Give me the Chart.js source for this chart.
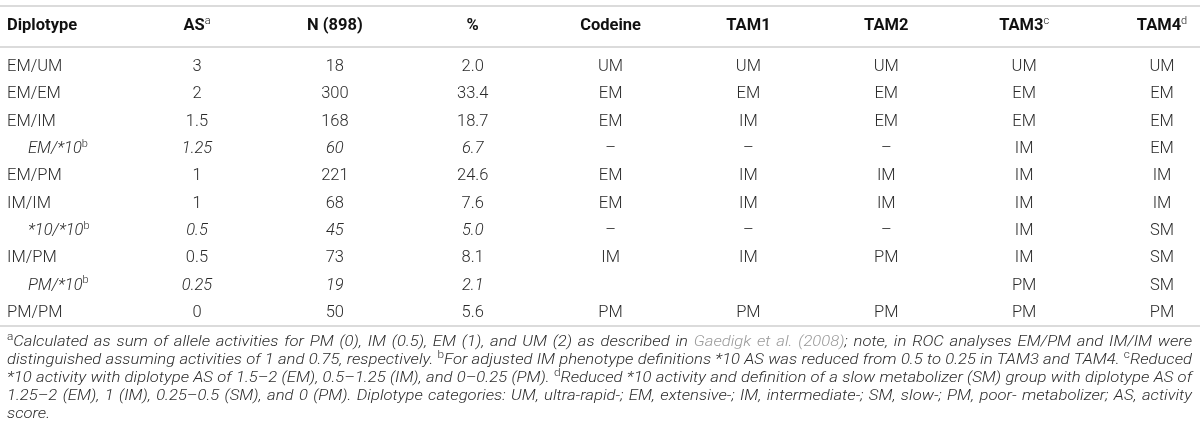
<!DOCTYPE html>
<html>
<head>
<meta charset="utf-8">
<script src="https://cdn.jsdelivr.net/npm/chart.js@4.4.1/dist/chart.umd.min.js"></script>
<style>
  html, body { margin: 0; padding: 0; background: #ffffff; }
  canvas { display: block; }
</style>
</head>
<body>
<canvas id="c" width="1200" height="439"></canvas>
<script>
// ---------------- DATA ----------------
const diplotypes = ['EM/UM', 'EM/EM', 'EM/IM', 'EM/*10', 'EM/PM', 'IM/IM', '*10/*10', 'IM/PM', 'PM/*10', 'PM/PM'];
const subRows    = [false, false, false, true, false, false, true, false, true, false];
const asScore    = [3, 2, 1.5, 1.25, 1, 1, 0.5, 0.5, 0.25, 0];
const nCount     = [18, 300, 168, 60, 221, 68, 45, 73, 19, 50];
const percent    = [2.0, 33.4, 18.7, 6.7, 24.6, 7.6, 5.0, 8.1, 2.1, 5.6];
const codeine    = ['UM', 'EM', 'EM', '–', 'EM', 'EM', '–', 'IM', '', 'PM'];
const tam1       = ['UM', 'EM', 'IM', '–', 'IM', 'IM', '–', 'IM', '', 'PM'];
const tam2       = ['UM', 'EM', 'EM', '–', 'IM', 'IM', '–', 'PM', '', 'PM'];
const tam3       = ['UM', 'EM', 'EM', 'IM', 'IM', 'IM', 'IM', 'IM', 'PM', 'PM'];
const tam4       = ['UM', 'EM', 'EM', 'EM', 'IM', 'IM', 'SM', 'SM', 'SM', 'PM'];

const firstHeader  = 'Diplotype';
const columnLabels = ['AS', 'N (898)', '%', 'Codeine', 'TAM1', 'TAM2', 'TAM3', 'TAM4'];
const columnSups   = ['a', '', '', '', '', '', 'c', 'd'];
const subRowSup    = 'b';

// ~...~ = link colour, ^x = superscript x
const footnotes = [
  '^aCalculated as sum of allele activities for PM (0), IM (0.5), EM (1), and UM (2) as described in ~Gaedigk~ ~et~ ~al.~ ~(2008)~; note, in ROC analyses EM/PM and IM/IM were',
  'distinguished assuming activities of 1 and 0.75, respectively. ^bFor adjusted IM phenotype definitions *10 AS was reduced from 0.5 to 0.25 in TAM3 and TAM4. ^cReduced',
  '*10 activity with diplotype AS of 1.5–2 (EM), 0.5–1.25 (IM), and 0–0.25 (PM). ^dReduced *10 activity and definition of a slow metabolizer (SM) group with diplotype AS of',
  '1.25–2 (EM), 1 (IM), 0.25–0.5 (SM), and 0 (PM). Diplotype categories: UM, ultra-rapid-; EM, extensive-; IM, intermediate-; SM, slow-; PM, poor- metabolizer; AS, activity',
  'score.'
];

// ---------------- STYLE ----------------
const FAMILY = "'Roboto', 'Liberation Sans', 'DejaVu Sans', sans-serif";
const TEXT = '#2b2b2b';
const HEAD = '#111111';
const RULE = '#cfcfcf';
const LINK = '#9a9a9a';

const columnCells = [
  asScore.map(v => String(v)),
  nCount.map(v => String(v)),
  percent.map(v => v.toFixed(1)),
  codeine, tam1, tam2, tam3, tam4
];
const italicColumns = [true, true, true, false, false, false, false, false];

function font(size, opts) {
  opts = opts || {};
  return (opts.italic ? 'italic ' : '') + (opts.weight || 300) + ' ' + size + 'px ' + FAMILY;
}

function measureSegs(ctx, segs, base) {
  let w = 0;
  segs.forEach(s => {
    ctx.font = s.sup ? font(base.supSize, {weight: 300}) : font(base.size, base);
    w += ctx.measureText(s.t).width;
  });
  return w;
}
function drawSegs(ctx, segs, x, y, base, align) {
  const w = measureSegs(ctx, segs, base);
  let cx = align === 'center' ? x - w / 2 : (align === 'right' ? x - w : x);
  ctx.textAlign = 'left';
  ctx.textBaseline = 'middle';
  segs.forEach(s => {
    ctx.font = s.sup ? font(base.supSize, {weight: 300}) : font(base.size, base);
    ctx.fillStyle = s.color || base.color;
    ctx.fillText(s.t, cx, s.sup ? y - base.supRise : y);
    cx += ctx.measureText(s.t).width;
  });
  return w;
}
function parseWord(w) {
  const segs = [];
  let link = false, buf = '';
  const flush = () => { if (buf) { segs.push({t: buf, color: link ? LINK : null}); buf = ''; } };
  for (let i = 0; i < w.length; i++) {
    const ch = w[i];
    if (ch === '~') { flush(); link = !link; continue; }
    if (ch === '^') { flush(); segs.push({t: w[i + 1], sup: true}); i++; continue; }
    buf += ch;
  }
  flush();
  return segs;
}

const tablePlugin = {
  id: 'tableText',
  afterDatasetsDraw(chart) {
    const ctx = chart.ctx;
    const a = chart.chartArea;
    const W = chart.width;
    ctx.save();

    // rules
    ctx.strokeStyle = RULE;
    ctx.lineWidth = 1.5;
    [a.top - 61, a.top - 20, a.bottom + 13].forEach(y => {
      ctx.beginPath(); ctx.moveTo(0, y); ctx.lineTo(W, y); ctx.stroke();
    });

    const headBase = {size: 16.5, weight: 700, color: HEAD, supSize: 11, supRise: 5};
    const headY = a.top - 41;
    drawSegs(ctx, [{t: firstHeader}], 7, headY, headBase, 'left');

    const meta0 = chart.getDatasetMeta(0);
    meta0.data.forEach((el, ri) => {
      const sub = subRows[ri];
      const base = {size: 16.5, weight: 300, italic: sub, color: TEXT, supSize: 11, supRise: 5};
      const segs = [{t: diplotypes[ri]}];
      if (sub) segs.push({t: subRowSup, sup: true});
      drawSegs(ctx, segs, sub ? 28 : 7, el.y, base, 'left');
    });

    chart.data.datasets.forEach((ds, di) => {
      const meta = chart.getDatasetMeta(di);
      const hx = meta.data[0].x;
      const hs = [{t: columnLabels[di]}];
      if (columnSups[di]) hs.push({t: columnSups[di], sup: true});
      drawSegs(ctx, hs, hx, headY, headBase, 'center');
      meta.data.forEach((el, ri) => {
        const txt = ds.cells[ri];
        if (!txt) return;
        const it = italicColumns[di] && subRows[ri];
        const base = {size: 16.5, weight: 300, italic: it, color: TEXT, supSize: 11, supRise: 5};
        drawSegs(ctx, [{t: txt}], el.x, el.y, base, 'center');
      });
    });

    // footnotes (justified, horizontally widened to match the wider original face)
    const fBase = {size: 14.8, weight: 300, italic: true, color: TEXT, supSize: 10.5, supRise: 5};
    const left = 7, right = 1192, avail = right - left;
    ctx.font = font(fBase.size, fBase);
    const spaceW = ctx.measureText(' ').width;
    const lines = footnotes.map(line => {
      const words = line.split(' ').map(parseWord);
      const widths = words.map(w => measureSegs(ctx, w, fBase));
      const total = widths.reduce((s, v) => s + v, 0);
      return {words, widths, total};
    });
    let sx = 1.3;
    lines.slice(0, lines.length - 1).forEach(L => {
      sx = Math.min(sx, avail / (L.total + spaceW * 1.05 * (L.words.length - 1)));
    });
    sx = Math.max(1, sx);
    lines.forEach((L, k) => {
      const y = a.bottom + 29 + 18 * k;
      const last = k === lines.length - 1;
      const gap = last ? spaceW * sx : (avail - L.total * sx) / (L.words.length - 1);
      let x = left;
      L.words.forEach((w, i) => {
        ctx.save();
        ctx.translate(x, y);
        ctx.scale(sx, 1);
        drawSegs(ctx, w, 0, 0, fBase, 'left');
        ctx.restore();
        x += L.widths[i] * sx + gap;
      });
    });

    ctx.restore();
  }
};

const datasets = columnLabels.map((lab, ci) => ({
  label: lab,
  cells: columnCells[ci],
  data: diplotypes.map(d => ({x: lab, y: d})),
  pointRadius: 0,
  pointHoverRadius: 0,
  showLine: false
}));

new Chart(document.getElementById('c'), {
  type: 'scatter',
  data: { datasets },
  options: {
    responsive: false,
    animation: false,
    events: [],
    layout: { padding: { left: 197, right: 38, top: 67, bottom: 126 } },
    plugins: { legend: { display: false }, tooltip: { enabled: false } },
    scales: {
      x: { type: 'category', labels: columnLabels, offset: false, display: false },
      y: { type: 'category', labels: diplotypes, offset: false, display: false }
    }
  },
  plugins: [tablePlugin]
});
</script>
</body>
</html>
